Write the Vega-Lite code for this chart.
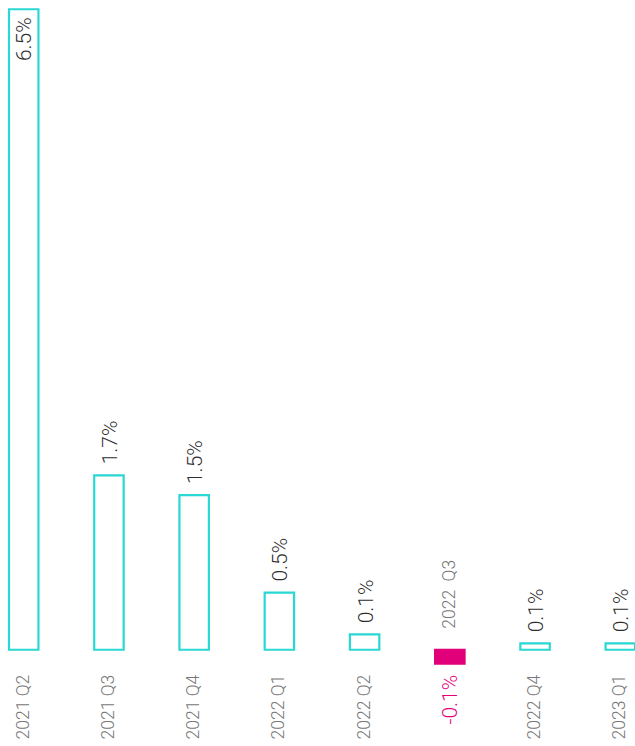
{
  "$schema": "https://vega.github.io/schema/vega-lite/v6.json",
  "width": 626,
  "height": 746,
  "autosize": {"type": "none"},
  "padding": {"left": 9, "right": 0, "top": 0, "bottom": 0},
  "background": "white",
  "config": {
    "view": {"stroke": null},
    "text": {"font": "Roboto", "fontWeight": 300}
  },
  "data": {
    "values": [
      {"quarter": "2021 Q2", "value": 6.5, "label": "6.5%"},
      {"quarter": "2021 Q3", "value": 1.77, "label": "1.7%"},
      {"quarter": "2021 Q4", "value": 1.57, "label": "1.5%"},
      {"quarter": "2022 Q1", "value": 0.58, "label": "0.5%"},
      {"quarter": "2022 Q2", "value": 0.156, "label": "0.1%"},
      {"quarter": "2022\u00a0 Q3", "value": -0.14, "label": "-0.1%"},
      {"quarter": "2022 Q4", "value": 0.065, "label": "0.1%"},
      {"quarter": "2023 Q1", "value": 0.065, "label": "0.1%"}
    ]
  },
  "encoding": {
    "x": {
      "field": "quarter",
      "type": "nominal",
      "sort": null,
      "axis": null,
      "scale": {"paddingInner": 0.6546, "paddingOuter": 0}
    }
  },
  "layer": [
    {
      "mark": {"type": "bar", "strokeWidth": 2.2},
      "encoding": {
        "y": {
          "field": "value",
          "type": "quantitative",
          "axis": null,
          "scale": {"domain": [-0.977, 6.594], "nice": false, "zero": false}
        },
        "y2": {"datum": 0},
        "fill": {
          "condition": {"test": "datum.value < 0", "value": "#e2007a"},
          "value": "white"
        },
        "stroke": {
          "condition": {"test": "datum.value < 0", "value": "#e2007a"},
          "value": "#29d8d4"
        }
      }
    },
    {
      "transform": [{"filter": "datum.value > 0 && datum.value < 6"}],
      "mark": {"type": "text", "angle": 270, "align": "left", "baseline": "middle", "dx": 11, "dy": 2, "fontSize": 21, "color": "#2e2e2e"},
      "encoding": {
        "y": {"field": "value", "type": "quantitative"},
        "text": {"field": "label"}
      }
    },
    {
      "transform": [{"filter": "datum.value >= 6"}],
      "mark": {"type": "text", "angle": 270, "align": "right", "baseline": "middle", "dx": -8, "dy": 1, "fontSize": 21, "color": "#2e2e2e"},
      "encoding": {
        "y": {"field": "value", "type": "quantitative"},
        "text": {"field": "label"}
      }
    },
    {
      "transform": [{"filter": "datum.value < 0"}],
      "mark": {"type": "text", "angle": 270, "align": "right", "baseline": "middle", "dx": -25, "dy": 1, "fontSize": 21, "color": "#e2007a"},
      "encoding": {
        "y": {"datum": 0},
        "text": {"field": "label"}
      }
    },
    {
      "transform": [{"filter": "datum.value >= 0"}],
      "mark": {"type": "text", "angle": 270, "align": "right", "baseline": "middle", "dx": -25, "fontSize": 17.5, "color": "#777777"},
      "encoding": {
        "y": {"datum": 0},
        "text": {"field": "quarter"}
      }
    },
    {
      "transform": [{"filter": "datum.value < 0"}],
      "mark": {"type": "text", "angle": 270, "align": "left", "baseline": "middle", "dx": 21, "fontSize": 17.5, "color": "#777777"},
      "encoding": {
        "y": {"datum": 0},
        "text": {"field": "quarter"}
      }
    }
  ]
}
